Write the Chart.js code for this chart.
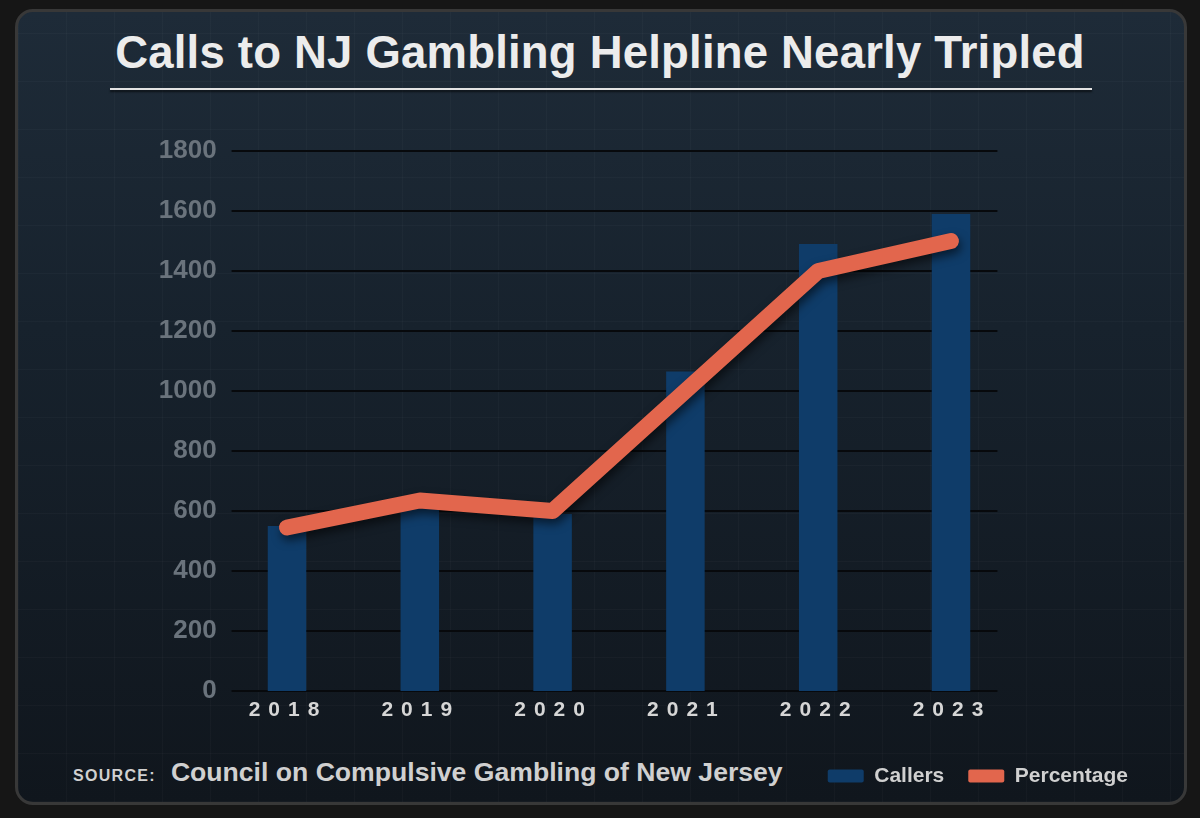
<!DOCTYPE html>
<html>
<head>
<meta charset="utf-8">
<script src="https://cdn.jsdelivr.net/npm/chart.js@4.4.1/dist/chart.umd.min.js"></script>
<style>
  html, body { margin: 0; padding: 0; }
  body {
    width: 1200px; height: 818px; overflow: hidden; position: relative;
    background: #161616;
    font-family: "Liberation Sans", Arial, sans-serif;
  }
  .panel {
    position: absolute; left: 15px; top: 9px; width: 1166px; height: 790px;
    border-radius: 18px; border: 3px solid #383838;
    background:
      repeating-linear-gradient(90deg, rgba(255,255,255,0.025) 0 1px, transparent 1px 48px),
      repeating-linear-gradient(0deg, rgba(255,255,255,0.025) 0 1px, transparent 1px 48px),
      linear-gradient(180deg, #1e2b38 0%, #17222d 40%, #10161d 100%);
  }
  .title {
    position: absolute; left: 0; width: 1200px; top: 27px; text-align: center;
    font-size: 45.5px; font-weight: bold; line-height: 52px; color: #ececec;
    letter-spacing: 0.2px;
  }
  .rule {
    position: absolute; left: 110px; width: 982px; top: 88px; height: 2px;
    background: #e2e2e2; box-shadow: 0 2px 2px rgba(0,0,0,0.6);
  }
  .source {
    position: absolute; left: 73px; top: 757px; color: #d0d0d0; white-space: nowrap;
  }
  .source .lab { font-size: 16px; font-weight: bold; letter-spacing: 1.3px; }
  .source .org { font-size: 26.6px; font-weight: bold; margin-left: 15px; }
  canvas { position: absolute; left: 0; top: 0; }
</style>
</head>
<body>
<div class="panel"></div>
<div class="title">Calls to NJ Gambling Helpline Nearly Tripled</div>
<div class="rule"></div>
<div class="source"><span class="lab">SOURCE:</span><span class="org">Council on Compulsive Gambling of New Jersey</span></div>
<canvas id="chart" width="1200" height="818"></canvas>
<script>
const years = ['2018', '2019', '2020', '2021', '2022', '2023'];
const callers = [550, 610, 590, 1065, 1490, 1590];
const percentage = [545, 635, 600, 1000, 1400, 1500];
const yTicks = [0, 200, 400, 600, 800, 1000, 1200, 1400, 1600, 1800];

const barColor = '#0f3c69';
const lineColor = '#e2664d';

// horizontal grid lines, a bit shorter than the plot area like the original
const GridPlugin = {
  id: 'gridLines',
  beforeDatasetsDraw: (chart) => {
    const {ctx, chartArea, scales} = chart;
    ctx.save();
    ctx.strokeStyle = '#07090c';
    ctx.lineWidth = 2;
    yTicks.forEach((v) => {
      const y = Math.round(scales.y.getPixelForValue(v));
      ctx.beginPath();
      ctx.moveTo(chartArea.left + 11, y);
      ctx.lineTo(chartArea.right - 20, y);
      ctx.stroke();
    });
    ctx.restore();
  }
}

// spaced out year labels under the bars
const YearLabels = {
  id: 'yearLabels',
  afterDraw: (chart) => {
    const {ctx, scales, chartArea} = chart;
    ctx.save();
    ctx.font = 'bold 21px "Liberation Sans", Arial, sans-serif';
    ctx.fillStyle = '#d6d6d6';
    ctx.textAlign = 'center';
    ctx.textBaseline = 'middle';
    ctx.letterSpacing = '8px';
    years.forEach((y, i) => {
      ctx.fillText(y, scales.x.getPixelForValue(i) + 1, chartArea.bottom + 19);
    });
    ctx.restore();
  }
}

const LineShadow = {
  id: 'lineShadow',
  beforeDatasetDraw: (chart, args) => {
    if (args.index !== 1) return;
    const {ctx} = chart;
    ctx.save();
    ctx.shadowColor = 'rgba(0,0,0,0.55)';
    ctx.shadowBlur = 10;
    ctx.shadowOffsetX = 2;
    ctx.shadowOffsetY = 5;
  },
  afterDatasetDraw: (chart, args) => {
    if (args.index !== 1) return;
    chart.ctx.restore();
  }
}

const ctx = document.getElementById('chart').getContext('2d');
new Chart(ctx, {
  type: 'bar',
  data: {
    labels: years,
    datasets: [
      {
        label: 'Callers',
        data: callers,
        backgroundColor: barColor,
        borderWidth: 0,
        categoryPercentage: 1,
        barPercentage: 0.29,
        order: 1
      },
      {
        type: 'line',
        label: 'Percentage',
        data: percentage,
        borderColor: lineColor,
        backgroundColor: lineColor,
        borderWidth: 16,
        borderCapStyle: 'round',
        borderJoinStyle: 'round',
        pointRadius: 0,
        tension: 0,
        order: 0
      }
    ]
  },
  options: {
    responsive: false,
    animation: false,
    devicePixelRatio: 1,
    layout: {
      padding: {left: 0, top: 151, right: 48, bottom: 21.5}
    },
    scales: {
      x: {
        grid: {display: false},
        border: {display: false},
        ticks: {display: false},
        afterFit: (scale) => { scale.height = 50.5; }
      },
      y: {
        min: 0,
        max: 1800,
        afterBuildTicks: (scale) => { scale.ticks = yTicks.map((v) => ({value: v})); },
        grid: {display: false, drawTicks: false},
        border: {display: false},
        ticks: {
          color: '#6a737c',
          padding: 4,
          callback: (v) => String(v),
          font: {family: '"Liberation Sans", Arial, sans-serif', size: 26, weight: 'bold'}
        },
        afterFit: (scale) => { scale.width = 220.6; }
      },
      yRight: {
        position: 'right',
        display: true,
        grid: {display: false, drawTicks: false},
        border: {display: false},
        ticks: {display: false},
        afterFit: (scale) => { scale.width = 134.6; }
      }
    },
    plugins: {
      tooltip: {enabled: false},
      title: {display: false},
      legend: {
        position: 'bottom',
        align: 'end',
        labels: {
          boxWidth: 36,
          boxHeight: 13,
          padding: 24,
          color: '#d0d0d0',
          useBorderRadius: true,
          borderRadius: 2,
          font: {family: '"Liberation Sans", Arial, sans-serif', size: 21, weight: 'bold'},
          sort: (a, b) => a.datasetIndex - b.datasetIndex,
          generateLabels: (chart) => Chart.defaults.plugins.legend.labels.generateLabels(chart)
            .map((item) => Object.assign(item, {lineWidth: 0}))
        }
      }
    }
  },
  plugins: [GridPlugin, LineShadow, YearLabels]
});
</script>
</body>
</html>
